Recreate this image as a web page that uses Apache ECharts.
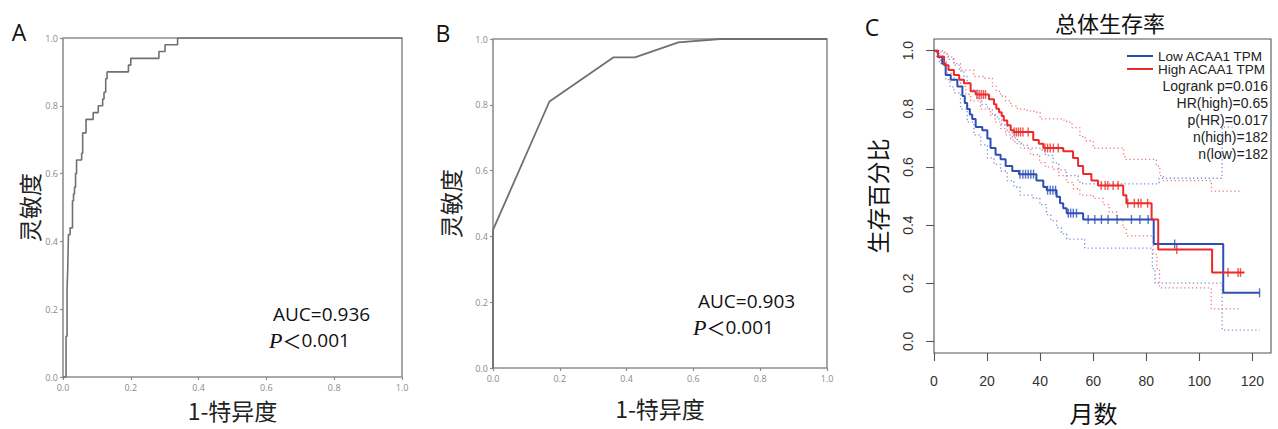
<!DOCTYPE html>
<html>
<head>
<meta charset="utf-8">
<script src="https://cdn.jsdelivr.net/npm/echarts@6/dist/echarts.min.js"></script>
<style>
html,body{margin:0;padding:0;background:#fff;}
#c{width:1278px;height:429px;}
</style>
</head>
<body>
<div id="c"></div>
<script>
// ---------- DATA ----------
const rocTicks = [0, 0.2, 0.4, 0.6, 0.8, 1.0];
const survTicks = [0, 0.2, 0.4, 0.6, 0.8, 1.0];
const monthTicks = [0, 20, 40, 60, 80, 100, 120];

// Panel A ROC (1-specificity, sensitivity) vertices
const rocA = [[0,0],[0.009,0],[0.009,0.12],[0.012,0.12],[0.012,0.26],[0.014,0.26],[0.014,0.32],[0.016,0.32],[0.016,0.42],
  [0.021,0.42],[0.021,0.44],[0.028,0.44],[0.028,0.52],[0.031,0.52],[0.031,0.54],[0.034,0.54],[0.034,0.56],[0.037,0.56],
  [0.037,0.60],[0.040,0.60],[0.040,0.64],[0.055,0.64],[0.055,0.66],[0.058,0.66],[0.058,0.72],[0.068,0.72],[0.068,0.76],
  [0.089,0.76],[0.089,0.78],[0.104,0.78],[0.104,0.80],[0.117,0.80],[0.117,0.82],[0.121,0.82],[0.121,0.84],[0.126,0.84],
  [0.126,0.88],[0.130,0.88],[0.130,0.90],[0.193,0.90],[0.193,0.92],[0.200,0.92],[0.200,0.94],[0.283,0.94],[0.283,0.96],
  [0.301,0.96],[0.301,0.98],[0.338,0.98],[0.338,1.0],[1.0,1.0]];
// Panel B ROC
const rocB = [[0,0],[0,0.42],[0.169,0.81],[0.36,0.944],[0.425,0.944],[0.555,0.99],[0.68,1.0],[1.0,1.0]];

// Panel C Kaplan-Meier: [month, survival]
const highKM = [[0,1.0],[1.5,0.98],[3.8,0.95],[5.5,0.933],[7.5,0.916],[9.5,0.9],[11.3,0.888],[13.8,0.86],[15.7,0.849],
  [20.7,0.833],[22.6,0.816],[23.5,0.80],[24.5,0.788],[25.5,0.775],[26.3,0.76],[27.6,0.743],[28.9,0.726],[30,0.72],
  [37.4,0.693],[39.5,0.68],[41.2,0.665],[48.7,0.654],[52.4,0.631],[54.3,0.603],[56.2,0.576],[59.3,0.553],[61.8,0.536],
  [71.3,0.503],[72.5,0.475],[82,0.419],[84.5,0.316],[104.8,0.237],[117,0.237]];
const lowKM = [[0,1.0],[1.5,0.978],[3.1,0.955],[4.4,0.916],[6.3,0.9],[8.8,0.877],[10.7,0.844],[11.6,0.82],[12.5,0.799],
  [13.5,0.78],[14.4,0.765],[15.7,0.737],[18.2,0.726],[20.1,0.698],[21.3,0.665],[23.2,0.642],[25.1,0.626],[27,0.603],
  [29.5,0.586],[32,0.575],[38.6,0.553],[41.2,0.531],[42.5,0.52],[46.2,0.497],[47.5,0.475],[48.7,0.458],[50,0.441],
  [56.2,0.419],[82.8,0.335],[109,0.167],[122.7,0.167]];
const highUpper = [[0,1],[2,0.995],[5,0.978],[7.5,0.955],[10,0.933],[15,0.911],[18.8,0.905],[22,0.877],[23.5,0.86],
  [25.1,0.844],[27,0.827],[28.9,0.81],[31.4,0.799],[35.1,0.793],[37.6,0.788],[40,0.765],[49,0.758],[50,0.754],[52,0.735],
  [55,0.704],[57,0.69],[60,0.665],[71.5,0.64],[72,0.626],[83.8,0.603],[85.1,0.57],[86.5,0.553],[104.5,0.517],[115.6,0.517]];
const highLower = [[0,1],[2,0.96],[5,0.922],[7.5,0.9],[10,0.877],[12,0.85],[13.8,0.827],[17.6,0.799],[21.3,0.777],
  [23,0.755],[25.1,0.732],[27,0.71],[28.9,0.693],[30.5,0.68],[32.6,0.665],[36.4,0.642],[39.8,0.615],[42,0.60],[44.9,0.592],
  [47,0.57],[50,0.547],[52.5,0.525],[55,0.503],[60,0.492],[63.7,0.47],[66,0.445],[69,0.42],[71.2,0.391],[72.5,0.363],
  [82.6,0.30],[84,0.25],[85,0.184],[104.5,0.112],[115.6,0.112]];
const lowUpper = [[0,1],[3.8,0.989],[5.5,0.97],[7.5,0.95],[9.5,0.93],[11.3,0.911],[12.5,0.89],[13.8,0.866],[16.3,0.833],
  [18,0.815],[20.1,0.799],[22,0.78],[23.8,0.765],[25.5,0.745],[27.6,0.72],[29.5,0.70],[31.4,0.687],[33,0.675],[35.1,0.665],
  [39.9,0.659],[42,0.64],[44.9,0.614],[47,0.59],[49.9,0.570],[54.3,0.547],[56,0.542],[84.8,0.561],[108.6,0.737],[112.5,0.737]];
const lowLower = [[0,1],[1,0.975],[2.5,0.955],[4.4,0.9],[6,0.875],[7.5,0.855],[10,0.799],[12.5,0.754],[15,0.71],
  [17.6,0.676],[20.1,0.631],[22.6,0.609],[25.1,0.586],[27.6,0.553],[30.1,0.531],[32.4,0.503],[37.4,0.492],[39.9,0.47],
  [42.4,0.436],[44,0.415],[46.2,0.391],[48,0.37],[50,0.352],[56.8,0.321],[82.3,0.25],[83.3,0.2],[108.6,0.039],[122.7,0.039]];
const highCensor = [[16.2,0.849],[17,0.849],[17.8,0.849],[18.6,0.849],[19.4,0.849],
  [30.2,0.72],[31,0.72],[31.8,0.72],[32.6,0.72],[33.5,0.72],[35.5,0.72],
  [41.8,0.665],[42.8,0.665],[43.8,0.665],[45,0.665],[46.8,0.665],
  [63,0.536],[64.5,0.536],[65.5,0.536],[67.5,0.536],[69.4,0.536],
  [73,0.475],[75.5,0.475],[77,0.475],[78,0.475],[80.5,0.475],
  [91.5,0.316],[110.8,0.237],[114.6,0.237],[115.5,0.237]];
const lowCensor = [[32.4,0.575],[33.5,0.575],[34.5,0.575],[35.5,0.575],[36.5,0.575],[37.5,0.575],
  [42.8,0.52],[43.8,0.52],[44.8,0.52],[45.8,0.52],
  [50.6,0.441],[51.5,0.441],[52.5,0.441],[53.7,0.441],
  [58.1,0.419],[60.6,0.419],[63.1,0.419],[65.6,0.419],[69,0.419],[74.4,0.419],[77.6,0.419],[80.7,0.419],
  [90.7,0.335],[122.7,0.167]];

const statsLines = ['Logrank p=0.016','HR(high)=0.65','p(HR)=0.017','n(high)=182','n(low)=182'];

// ---------- CHART ----------
const CJK = '"Noto Sans CJK SC", "Noto Sans", sans-serif';
const LAT = '"Open Sans", "Noto Sans", sans-serif';
const RF = '"Liberation Sans", Arial, sans-serif';
const blue = '#2d4fb5', red = '#ec2a2a', blueDot = '#7d8ddb', redDot = '#f27b7b';

function rocX(gi, gap){
  return {gridIndex:gi, type:'value', min:0, max:1, interval:0.2,
    axisLine:{show:false, onZero:false}, splitLine:{show:false},
    axisTick:{show:true, length:3, lineStyle:{color:'#8a8a8a', width:1.2}},
    axisLabel:{formatter:v=>v.toFixed(1), fontSize:9, color:'#8a8a8a', margin:6, fontFamily:LAT},
    name:'1-特异度', nameLocation:'middle', nameGap:gap,
    nameTextStyle:{fontSize:23, color:'#222', fontFamily:CJK}};
}
function rocY(gi, gap){
  return {gridIndex:gi, type:'value', min:0, max:1, interval:0.2,
    axisLine:{show:false, onZero:false}, splitLine:{show:false},
    axisTick:{show:true, length:3, lineStyle:{color:'#8a8a8a', width:1.2}},
    axisLabel:{formatter:v=>v.toFixed(1), fontSize:9, color:'#8a8a8a', margin:5, fontFamily:LAT},
    name:'灵敏度', nameLocation:'middle', nameGap:gap,
    nameTextStyle:{fontSize:23, color:'#222', fontFamily:CJK}};
}
function dotted(data, color){
  return {type:'line', xAxisIndex:2, yAxisIndex:2, data:data, step:'end', showSymbol:false, silent:true,
    lineStyle:{color:color, width:1.3, type:[1.3,2.6]}, z:2};
}
const pRich = {
  p:{fontFamily:'"Liberation Serif", serif', fontStyle:'italic', fontSize:22, fill:'#111'},
  l:{fontFamily:CJK, fontSize:19, fill:'#111'},
  n:{fontFamily:LAT, fontSize:19, fill:'#111'}
};

const chart = echarts.init(document.getElementById('c'), null, {renderer:'svg'});
chart.setOption({
  animation:false,
  backgroundColor:'#fff',
  grid:[
    {left:63, top:38, width:339, height:339, show:true, borderColor:'#8f8f8f', borderWidth:1.6},
    {left:493, top:39, width:334, height:329, show:true, borderColor:'#8f8f8f', borderWidth:1.6},
    {left:934, top:39, width:337, height:323, show:true, borderColor:'#555', borderWidth:1.1}
  ],
  xAxis:[
    rocX(0, 21),
    rocX(1, 28),
    {gridIndex:2, type:'value', min:0, max:127,
      axisLine:{show:false, onZero:false}, splitLine:{show:false},
      axisTick:{show:true, length:8, customValues:monthTicks, lineStyle:{color:'#555', width:1.1}},
      axisLabel:{customValues:monthTicks, fontSize:14, color:'#333', margin:21, fontFamily:RF},
      name:'月数', nameLocation:'middle', nameGap:47,
      nameTextStyle:{fontSize:24, color:'#111', fontFamily:CJK, padding:[0,18,0,0]}}
  ],
  yAxis:[
    rocY(0, 23),
    rocY(1, 32),
    {gridIndex:2, type:'value', min:-0.04, max:1.04,
      axisLine:{show:false, onZero:false}, splitLine:{show:false},
      axisTick:{show:true, length:8, customValues:survTicks, lineStyle:{color:'#555', width:1.1}},
      axisLabel:{customValues:survTicks, formatter:v=>v.toFixed(1), rotate:90, fontSize:14, color:'#333', margin:19, fontFamily:RF},
      name:'生存百分比', nameLocation:'middle', nameGap:46,
      nameTextStyle:{fontSize:23, color:'#111', fontFamily:CJK}}
  ],
  legend:{
    data:['Low ACAA1 TPM','High ACAA1 TPM'], orient:'vertical', left:1122, top:44,
    icon:'rect', itemWidth:26, itemHeight:2, itemGap:-1, selectedMode:false,
    textStyle:{fontSize:13.5, lineHeight:13, color:'#222', fontFamily:RF, padding:[0,0,0,0]}
  },
  graphic:[
    {type:'text', x:19, y:32, style:{text:'A', font:'23px '+LAT, fill:'#111', textAlign:'center', textVerticalAlign:'middle'}},
    {type:'text', x:443, y:33, style:{text:'B', font:'23px '+LAT, fill:'#111', textAlign:'center', textVerticalAlign:'middle'}},
    {type:'text', x:872, y:27, style:{text:'C', font:'23px '+LAT, fill:'#111', textAlign:'center', textVerticalAlign:'middle'}},
    {type:'text', x:1110, y:22, style:{text:'总体生存率', font:'22px '+CJK, fill:'#111', textAlign:'center', textVerticalAlign:'middle'}},
    {type:'text', x:273, y:314, style:{text:'AUC=0.936', font:'19px '+LAT, fill:'#111', textVerticalAlign:'middle'}},
    {type:'text', x:269, y:340, style:{text:'{p|P}{l|＜}{n|0.001}', textVerticalAlign:'middle', rich:pRich}},
    {type:'text', x:698, y:301, style:{text:'AUC=0.903', font:'19px '+LAT, fill:'#111', textVerticalAlign:'middle'}},
    {type:'text', x:693, y:327, style:{text:'{p|P}{l|＜}{n|0.001}', textVerticalAlign:'middle', rich:pRich}},
    {type:'text', x:1268, y:78, style:{text:statsLines.join('\n'), font:'14px '+RF, lineHeight:16.9, fill:'#222', textAlign:'right', textVerticalAlign:'top'}}
  ],
  series:[
    {type:'line', xAxisIndex:0, yAxisIndex:0, data:rocA, showSymbol:false, lineStyle:{color:'#707070', width:1.6}},
    {type:'line', xAxisIndex:1, yAxisIndex:1, data:rocB, showSymbol:false, lineStyle:{color:'#707070', width:1.8}},
    dotted(lowUpper, blueDot), dotted(lowLower, blueDot),
    dotted(highUpper, redDot), dotted(highLower, redDot),
    {name:'Low ACAA1 TPM', type:'line', xAxisIndex:2, yAxisIndex:2, data:lowKM, step:'end', showSymbol:false,
      lineStyle:{color:blue, width:2}, itemStyle:{color:blue}, z:4},
    {name:'High ACAA1 TPM', type:'line', xAxisIndex:2, yAxisIndex:2, data:highKM, step:'end', showSymbol:false,
      lineStyle:{color:red, width:2}, itemStyle:{color:red}, z:4},
    {type:'scatter', xAxisIndex:2, yAxisIndex:2, data:lowCensor, symbol:'rect', symbolSize:[1.4,9], itemStyle:{color:blue}, z:5, silent:true},
    {type:'scatter', xAxisIndex:2, yAxisIndex:2, data:highCensor, symbol:'rect', symbolSize:[1.4,9], itemStyle:{color:red}, z:5, silent:true}
  ]
});
</script>
</body>
</html>
